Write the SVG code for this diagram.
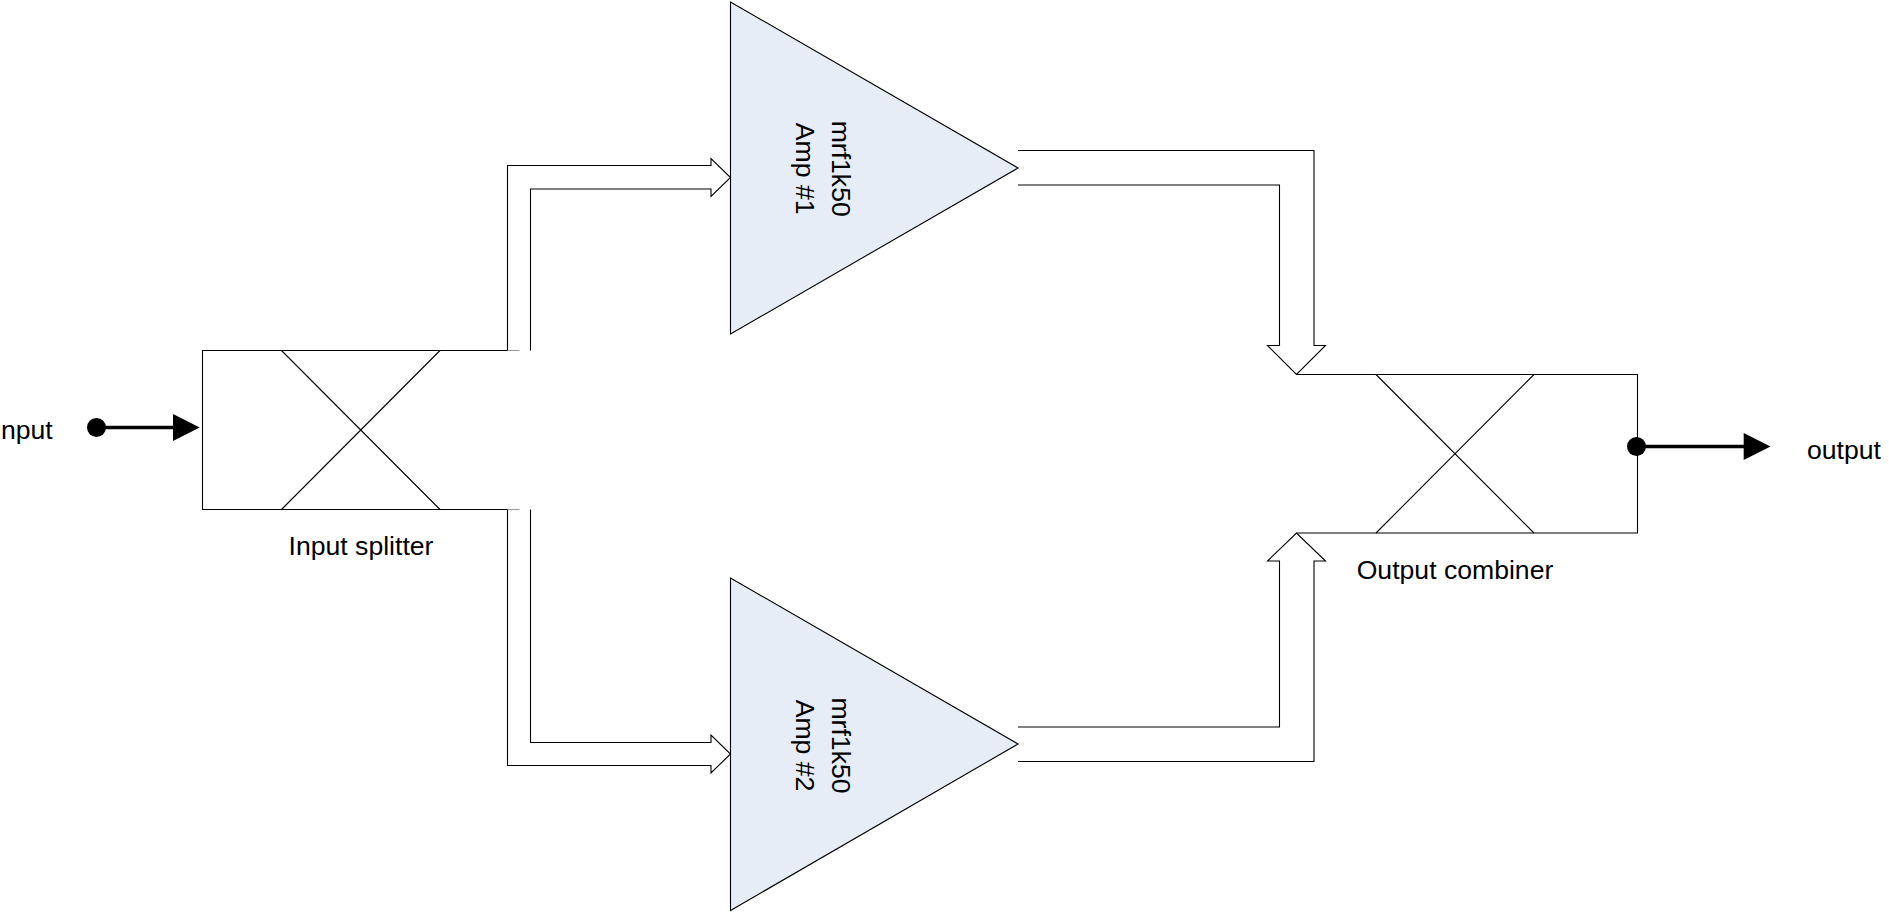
<svg xmlns="http://www.w3.org/2000/svg" width="1889" height="913" viewBox="0 0 1889 913">
<style>
.l{fill:none;stroke:#000;stroke-width:1.1}
.x{fill:none;stroke:#000;stroke-width:1.1}
.a{fill:none;stroke:#000;stroke-width:1.1}
.t{fill:#e6edf7;stroke:#000;stroke-width:1.1}
.p{fill:none;stroke:#000;stroke-width:3.4}
.d{fill:#000}
text{font-family:"Liberation Sans",Arial,sans-serif;font-size:26.6px;fill:#000}
</style>
<rect width="1889" height="913" fill="#fff"/>
<g id="input-splitter">
<path class="l" d="M507.500 350.500H202.500V509.500H507.500"/>
<path class="x" d="M281.500 350.500L440 509.500M440 350.500L281.500 509.500"/>
<path d="M507.500 350.500H519.500M507.500 509.500H519.500" fill="none" stroke="#999" stroke-width="1.200"/>
<text x="361" y="554.500" text-anchor="middle">Input splitter</text>
</g>
<g id="output-combiner">
<path class="l" d="M1296.500 374.500H1637.500V533H1296.500"/>
<path class="x" d="M1376 374.500L1534 533M1534 374.500L1376 533"/>
<text x="1455" y="578.500" text-anchor="middle">Output combiner</text>
</g>
<g id="amp-1">
<path class="t" d="M730.500 2L1018 168L730.500 334Z"/>
<text transform="translate(831.500 168.700) rotate(90)" text-anchor="middle">mrf1k50</text>
<text transform="translate(796 168.700) rotate(90)" text-anchor="middle">Amp #1</text>
</g>
<g id="amp-2">
<path class="t" d="M730.500 578L1018 744L730.500 910.500Z"/>
<text transform="translate(831.500 745.500) rotate(90)" text-anchor="middle">mrf1k50</text>
<text transform="translate(796 745.500) rotate(90)" text-anchor="middle">Amp #2</text>
</g>
<g id="input-label"><text x="1" y="438.500">nput</text></g>
<g id="output-label"><text x="1807" y="459">output</text></g>
<g id="connectors">
<path class="a" d="M507.500 350.500V165.500H711V158.500L730.500 177.500L711 196.500V189H530.500V350.500"/>
<path class="a" d="M507.500 509.500V765.500H711V773L730.500 754L711 735V742.500H530.500V509.500"/>
<path class="a" d="M1018 150.500H1314V345.500H1325.500L1296.500 374.500L1267.500 345.500H1279.500V185H1018"/>
<path class="a" d="M1018 761.500H1314V561H1325.500L1296.500 533L1267.500 561H1279.500V727H1018"/>
<circle class="d" cx="96.500" cy="427.500" r="9.500"/>
<path class="p" d="M96.500 427.500H175"/>
<path class="d" d="M173 414L199.700 427.500L173 441Z"/>
<circle class="d" cx="1636.500" cy="446.500" r="9.500"/>
<path class="p" d="M1636.500 446.500H1745"/>
<path class="d" d="M1743.700 433L1770.500 446.500L1743.700 460Z"/>
</g>
</svg>
